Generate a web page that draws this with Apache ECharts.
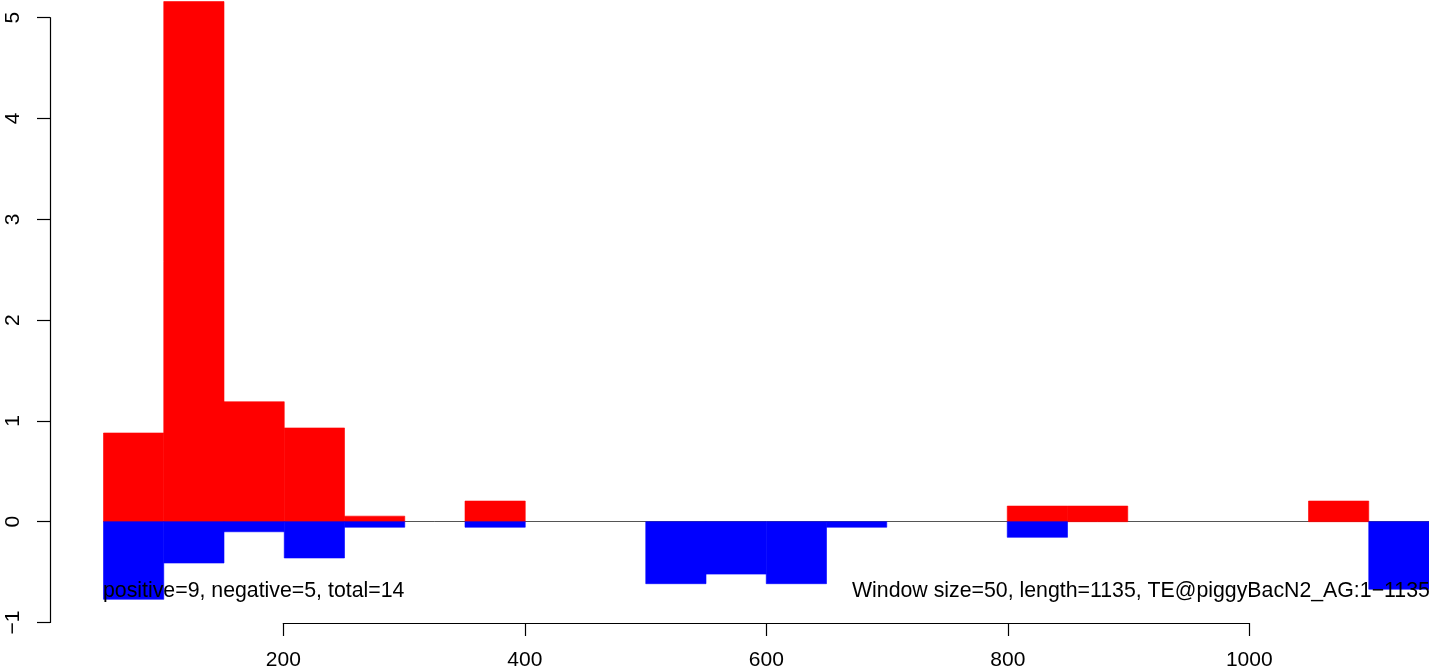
<!DOCTYPE html>
<html>
<head>
<meta charset="utf-8">
<script src="https://cdn.jsdelivr.net/npm/echarts@6/dist/echarts.min.js"></script>
<style>
html,body{margin:0;padding:0;background:#fff;}
#chart{width:1429px;height:671px;}
</style>
</head>
<body>
<div id="chart"></div>
<script>
// Window starts (window size 50)
const binStarts = [50, 100, 150, 200, 250, 300, 350, 400, 450, 500, 550, 600, 650, 700, 750, 800, 850, 900, 950, 1000, 1050, 1100];
const windowSize = 50;
// positive (red) values per window
const posValues = [0.88, 5.16, 1.19, 0.93, 0.055, 0, 0.205, 0, 0, 0, 0, 0, 0, 0, 0, 0.155, 0.155, 0, 0, 0, 0.205, 0];
// negative (blue) values per window
const negValues = [-0.77, -0.41, -0.10, -0.36, -0.055, 0, -0.055, 0, 0, -0.615, -0.52, -0.615, -0.055, 0, 0, -0.155, 0, 0, 0, 0, 0, -0.67];
const xTicks = [200, 400, 600, 800, 1000];
const yTicks = [-1, 0, 1, 2, 3, 4, 5];
const leftNote = 'positive=9, negative=5, total=14';
const rightNote = 'Window size=50, length=1135, TE@piggyBacN2_AG:1\u22121135';

const FONT = '"Liberation Sans", Arial, Helvetica, sans-serif';

function toData(vals) {
  const out = [];
  vals.forEach((v, i) => { if (v !== 0) out.push([binStarts[i], binStarts[i] + windowSize, v]); });
  return out;
}
function makeRender(color) {
  return function (params, api) {
    const x0 = api.value(0), x1 = api.value(1), v = api.value(2);
    const p0 = api.coord([x0, 0]);
    const p1 = api.coord([x1, v]);
    return {
      type: 'rect',
      shape: { x: p0[0], y: Math.min(p0[1], p1[1]), width: p1[0] - p0[0], height: Math.abs(p1[1] - p0[1]) },
      style: { fill: color, stroke: color, lineWidth: 0.6 }
    };
  };
}

const chart = echarts.init(document.getElementById('chart'), null, { renderer: 'canvas' });
const gridTop = 17.7, gridBottomY = 622.5;
chart.setOption({
  animation: false,
  backgroundColor: '#ffffff',
  grid: [
    { left: 103.5, width: 1329, top: gridTop, height: gridBottomY - gridTop, containLabel: false },
    { left: 283.3, width: 966, top: gridTop, height: gridBottomY - gridTop + 0.8, containLabel: false }
  ],
  xAxis: [
    { type: 'value', gridIndex: 0, min: 50, max: 1150, show: false },
    {
      type: 'value', gridIndex: 1, min: 200, max: 1000, interval: 200, position: 'bottom',
      axisLine: { show: true, onZero: false, lineStyle: { color: '#000', width: 1.2 } },
      axisTick: { show: true, length: 13, lineStyle: { color: '#000', width: 1.2 } },
      axisLabel: { show: true, color: '#000', fontSize: 21, fontFamily: FONT, margin: 27,
        formatter: v => xTicks.includes(v) ? String(v) : '' },
      splitLine: { show: false }
    }
  ],
  yAxis: [
    {
      type: 'value', gridIndex: 0, min: -1, max: 5, interval: 1, position: 'left', offset: 53.5,
      axisLine: { show: true, onZero: false, lineStyle: { color: '#000', width: 1.2 } },
      axisTick: { show: true, length: 13, lineStyle: { color: '#000', width: 1.2 } },
      axisLabel: { show: true, color: '#000', fontSize: 21, fontFamily: FONT, rotate: 90, margin: 26,
        formatter: v => yTicks.includes(v) ? (v < 0 ? '\u2212' + Math.abs(v) : String(v)) : '' },
      splitLine: { show: false }
    },
    { type: 'value', gridIndex: 1, min: -1, max: 5, show: false }
  ],
  series: [
    {
      type: 'custom', xAxisIndex: 0, yAxisIndex: 0, clip: false, z: 3,
      renderItem: makeRender('#ff0000'), data: toData(posValues),
      markLine: {
        silent: true, symbol: ['none', 'none'], label: { show: false }, z: 1,
        lineStyle: { color: '#555', width: 1, type: 'solid' },
        data: [{ yAxis: 0 }]
      }
    },
    {
      type: 'custom', xAxisIndex: 0, yAxisIndex: 0, clip: false, z: 4,
      renderItem: makeRender('#0000ff'), data: toData(negValues)
    }
  ],
  graphic: [
    { type: 'text', left: 103, top: 581, z: 100,
      style: { text: leftNote, fill: '#000', font: '21.3px ' + FONT } },
    { type: 'text', left: 852, top: 581, z: 100,
      style: { text: rightNote, fill: '#000', font: '21.3px ' + FONT } }
  ]
});
</script>
</body>
</html>
